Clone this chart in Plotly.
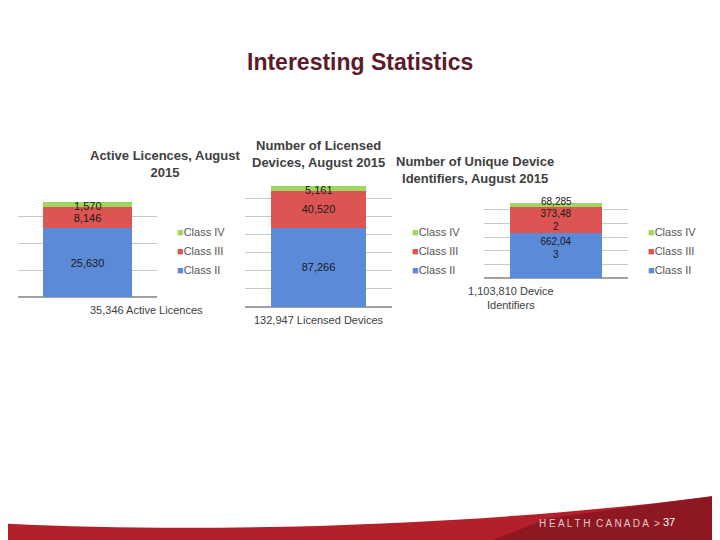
import plotly.graph_objects as go

classes = ["Class II", "Class III", "Class IV"]
colors = ["#5b8ad8", "#dc5552", "#9fd65f"]
licences = [25630, 8146, 1570]
devices = [87266, 40520, 5161]
udis = [662043, 373482, 68285]
lic_labels = ["25,630", "8,146", "1,570"]
dev_labels = ["87,266", "40,520", "5,161"]
udi_labels = ["662,04<br>3", "373,48<br>2", "68,285"]
titles = ["Active Licences, August<br>2015", "Number of Licensed<br>Devices, August 2015",
          "Number of Unique Device<br>Identifiers, August 2015"]
xlabels = ["35,346 Active Licences", "132,947 Licensed Devices", "1,103,810 Device<br>Identifiers"]

# page is offset by the body margin, so positions are in pixels minus 8
def px(x):
    return (x - 8) / 720

def py(y):
    return 1 - (y - 8) / 540

charts = [
    dict(vals=licences, labs=lic_labels, x=(px(18), px(157)), y=(py(297), py(190)), rng=40000, dt=10000, fs=11),
    dict(vals=devices, labs=dev_labels, x=(px(245), px(392)), y=(py(307), py(180)), rng=140000, dt=20000, fs=11),
    dict(vals=udis, labs=udi_labels, x=(px(484), px(628)), y=(py(278), py(196)), rng=1200000, dt=200000, fs=10),
]

fig = go.Figure()
ann = []
for i, c in enumerate(charts):
    n = "" if i == 0 else str(i + 1)
    total = sum(c["vals"])
    for k in range(3):
        fig.add_trace(go.Bar(x=[0], y=[c["vals"][k]], text=[c["labs"][k]],
                             textposition="inside" if k < 2 else "none",
                             insidetextanchor="middle" if (i < 2 or k == 1) else "end",
                             constraintext="none",
                             textfont=dict(size=c["fs"], color="#1a1a1a"),
                             marker=dict(color=colors[k], line=dict(width=0)),
                             xaxis="x" + n, yaxis="y" + n, showlegend=False, hoverinfo="skip"))
    ann.append(dict(x=0, y=total, xref="x" + n, yref="y" + n, text=c["labs"][2], showarrow=False,
                    yanchor="top", yshift=4 if i < 2 else 9, font=dict(size=c["fs"], color="#1a1a1a")))
    fig.update_layout(**{
        "xaxis" + n: dict(domain=c["x"], range=[-0.5, 0.5], showticklabels=False, showgrid=False,
                          zeroline=False, anchor="y" + n),
        "yaxis" + n: dict(domain=c["y"], range=[0, c["rng"]], dtick=c["dt"], showticklabels=False,
                          showgrid=True, gridcolor="#c8c8c8", zeroline=True, zerolinecolor="#a0a0a0",
                          anchor="x" + n),
    })
    xm = (c["x"][0] + c["x"][1]) / 2
    ann.append(dict(x=xm, y=c["y"][1] + 0.015, xref="paper", yref="paper", text="<b>" + titles[i] + "</b>",
                    showarrow=False, yanchor="bottom", font=dict(size=13, color="#404040")))
    ann.append(dict(x=xm, y=c["y"][0] - 0.01, xref="paper", yref="paper", text=xlabels[i],
                    showarrow=False, yanchor="top", font=dict(size=11, color="#404040")))
    lx = c["x"][1] + 0.025
    for k, yy in zip([2, 1, 0], [232, 251, 270]):
        ann.append(dict(x=lx, y=py(yy), xref="paper", yref="paper", showarrow=False, xanchor="left",
                        yanchor="middle",
                        text="<span style='color:%s'>■</span>%s" % (colors[k], classes[k]),
                        font=dict(size=11, color="#555555")))

ann.append(dict(x=px(360), y=py(62), xref="paper", yref="paper", showarrow=False, yanchor="middle",
                text="<b>Interesting Statistics</b>", font=dict(size=23, color="#5c1a2b", family="Liberation Sans")))
ann.append(dict(x=px(662), y=py(523), xref="paper", yref="paper", showarrow=False, xanchor="right",
                yanchor="middle", text="H E A L T H  C A N A D A  >", font=dict(size=10, color="#e8c8c8")))
ann.append(dict(x=px(677), y=py(522), xref="paper", yref="paper", showarrow=False, yanchor="middle",
                text="37", font=dict(size=11, color="#ffffff")))

fig.update_layout(
    width=720, height=540, margin=dict(l=0, r=0, t=0, b=0), barmode="stack", bargap=0.36,
    plot_bgcolor="white", paper_bgcolor="white", font=dict(family="Liberation Sans"),
    annotations=ann,
    shapes=[dict(type="path", xref="paper", yref="paper", layer="below",
                 path="M 0 -0.05 L 0 0.045 C 0.3 0.025 0.7 0.045 1 0.1 L 1 -0.05 Z",
                 fillcolor="#b3202a", line=dict(width=0)),
            dict(type="path", xref="paper", yref="paper", layer="below",
                 path="M 0.55 -0.05 L 0.75 0.055 L 1 0.1 L 1 -0.05 Z",
                 fillcolor="#8e1822", line=dict(width=0))],
)
fig.write_html("out.html")
